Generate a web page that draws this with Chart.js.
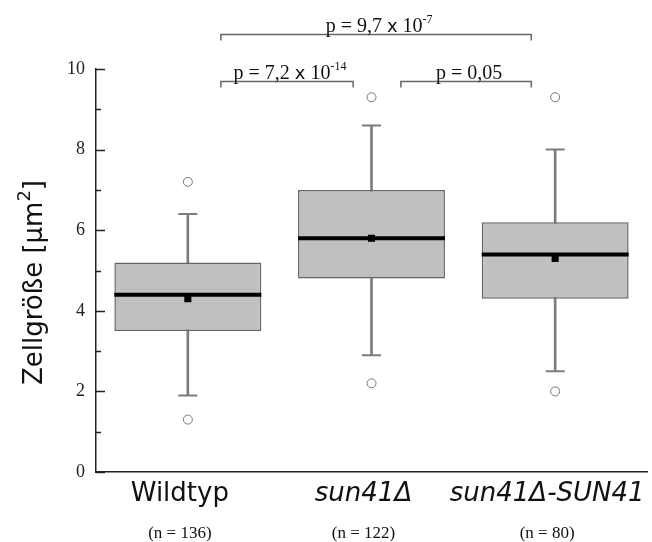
<!DOCTYPE html>
<html>
<head>
<meta charset="utf-8">
<script src="https://cdn.jsdelivr.net/npm/chart.js@4/dist/chart.umd.min.js"></script>
<style>
  html, body { margin: 0; padding: 0; background: #fff; }
  #wrap { width: 652px; height: 542px; }
</style>
</head>
<body>
<div id="wrap"><canvas id="cellSize"></canvas></div>
<script>
// cell size per strain (µm²)
const groups = ['Wildtyp', 'sun41Δ', 'sun41Δ-SUN41'];
const counts = [136, 122, 80];
const whiskerLow = [1.9, 2.9, 2.5];
const q1 = [3.5, 4.8, 4.3];
const median = [4.4, 5.8, 5.4];
const q3 = [5.2, 7.0, 6.2];
const whiskerHigh = [6.4, 8.6, 8.0];
const means = [4.3, 5.8, 5.3];
const outlierLow = [1.3, 2.2, 2.0];
const outlierHigh = [7.2, 9.3, 9.3];
const yTicks = [0, 2, 4, 6, 8, 10];

// pairwise tests: [group a, group b, mantissa, exponent]
const tests = [
  [0, 1, '7,2', '-14'],
  [1, 2, '0,05', null],
  [0, 2, '9,7', '-7']
];

const SERIF = '"Liberation Serif", "Times New Roman", serif';
const SANS = '"DejaVu Sans", sans-serif';
const GRAY = '#7c7c7c';

function boxHalfWidth(c) {
  var x = c.chart.scales.x;
  if (!x) return 0;
  return x.width / groups.length * 0.8 / 2;
}

function pts(vals) {
  return vals.map((v, i) => ({ x: groups[i], y: v }));
}

// draws a row of text pieces (fonts / raised parts) centred at cx
function drawParts(ctx, parts, cx, baseline) {
  var total = 0;
  parts.forEach(p => { ctx.font = p.font; p.w = ctx.measureText(p.t).width; total += p.w; });
  var x = cx - total / 2;
  ctx.textAlign = 'left';
  ctx.textBaseline = 'alphabetic';
  parts.forEach(p => {
    ctx.font = p.font;
    ctx.fillText(p.t, x, baseline + (p.dy || 0));
    x += p.w;
  });
}

function pParts(mant, exp) {
  var parts = [{ t: 'p = ' + mant, font: '20px ' + SERIF }];
  if (exp) {
    parts[0].t += ' ';
    parts.push({ t: 'x', font: '18px ' + SANS });
    parts.push({ t: ' 10', font: '20px ' + SERIF });
    parts.push({ t: exp, font: '12px ' + SERIF, dy: -9 });
  }
  return parts;
}

const annotations = {
  id: 'annotations',
  afterDraw(chart) {
    var ctx = chart.ctx, x = chart.scales.x, y = chart.scales.y, area = chart.chartArea;
    ctx.save();

    // inward ticks on the y axis, short ones at odd values
    ctx.strokeStyle = '#222';
    ctx.lineWidth = 1.5;
    for (var v = 0; v <= 10; v++) {
      var py = Math.round(y.getPixelForValue(v)) + 0.5;
      ctx.beginPath();
      ctx.moveTo(area.left, py);
      ctx.lineTo(area.left + (v % 2 ? 5 : 9), py);
      ctx.stroke();
    }

    // significance brackets
    var ends = { '0-1': [0.18, 0.9], '1-2': [1.16, 1.87], '0-2': [0.18, 1.87] };
    ctx.strokeStyle = '#666';
    ctx.lineWidth = 1.5;
    ctx.fillStyle = '#111';
    tests.forEach(t => {
      var e = ends[t[0] + '-' + t[1]];
      var x0 = x.getPixelForValue(e[0]), x1 = x.getPixelForValue(e[1]);
      var wide = t[1] - t[0] > 1;
      var ly = wide ? area.top - 34.5 : area.top + 12.5;
      ctx.beginPath();
      ctx.moveTo(x0, ly + 6);
      ctx.lineTo(x0, ly);
      ctx.lineTo(x1, ly);
      ctx.lineTo(x1, ly + 6);
      ctx.stroke();
      drawParts(ctx, pParts(t[2], t[3]), (x0 + x1) / 2 + 3, ly - 3);
    });

    // category names and sample sizes
    ctx.fillStyle = '#111';
    groups.forEach((g, i) => {
      var cx = x.getPixelForValue(i) - 8;
      drawParts(ctx, [{ t: g, font: (i > 0 ? 'italic ' : '') + '26px ' + SANS }], cx, area.bottom + 29);
      drawParts(ctx, [{ t: '(n = ' + counts[i] + ')', font: '17px ' + SERIF }], cx, area.bottom + 66);
    });

    // y axis title
    ctx.translate(42, (area.top + area.bottom) / 2 + 12);
    ctx.rotate(-Math.PI / 2);
    drawParts(ctx, [
      { t: 'Zellgröße [µm', font: '26px ' + SANS },
      { t: '2', font: '18px ' + SANS, dy: -12 },
      { t: ']', font: '26px ' + SANS }
    ], 0, 0);

    ctx.restore();
  }
};

new Chart(document.getElementById('cellSize'), {
  data: {
    labels: groups,
    datasets: [
      {
        type: 'bar', label: 'whisker', order: 6, grouped: false,
        data: whiskerLow.map((v, i) => [v, whiskerHigh[i]]),
        backgroundColor: GRAY, barThickness: 2, borderWidth: 0
      },
      {
        type: 'bar', label: 'box', order: 5, grouped: false,
        data: q1.map((v, i) => [v, q3[i]]),
        backgroundColor: '#c0c0c0', borderColor: '#666', borderWidth: 1.5,
        borderSkipped: false, barPercentage: 1, categoryPercentage: 0.8
      },
      {
        type: 'line', label: 'median', order: 4, showLine: false,
        data: pts(median), pointStyle: 'line', pointRadius: boxHalfWidth,
        pointBorderColor: '#000', pointBorderWidth: 4
      },
      {
        type: 'line', label: 'caps', order: 3, showLine: false,
        data: pts(whiskerLow).concat(pts(whiskerHigh)), pointStyle: 'line', pointRadius: 9.5,
        pointBorderColor: GRAY, pointBorderWidth: 2
      },
      {
        type: 'line', label: 'mean', order: 2, showLine: false,
        data: pts(means), pointStyle: 'rect', pointRadius: 5,
        pointBackgroundColor: '#000', pointBorderColor: '#000', pointBorderWidth: 0
      },
      {
        type: 'line', label: 'outliers', order: 1, showLine: false,
        data: pts(outlierLow).concat(pts(outlierHigh)), pointStyle: 'circle', pointRadius: 4.5,
        pointBackgroundColor: '#fff', pointBorderColor: '#777', pointBorderWidth: 1
      }
    ]
  },
  options: {
    responsive: true,
    maintainAspectRatio: false,
    animation: false,
    layout: { autoPadding: false, padding: { left: 10, top: 69, right: 5, bottom: 0 } },
    plugins: { legend: { display: false }, tooltip: { enabled: false } },
    scales: {
      x: {
        type: 'category',
        offset: true,
        grid: { display: false, drawTicks: false },
        border: { display: true, color: '#222', width: 1.5 },
        ticks: { display: false },
        afterFit(s) { s.height = 70; }
      },
      y: {
        min: 0, max: 10,
        grid: { display: false, drawTicks: false },
        border: { display: true, color: '#222', width: 1.5 },
        ticks: {
          stepSize: 2, padding: 11, color: '#222',
          font: { family: SERIF, size: 18 },
          callback: v => yTicks.includes(v) ? v : ''
        },
        afterFit(s) { s.width = 86; }
      }
    }
  },
  plugins: [annotations]
});
</script>
</body>
</html>
